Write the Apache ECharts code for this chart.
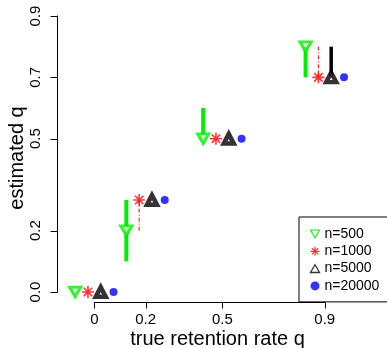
<!DOCTYPE html>
<html>
<head>
<meta charset="utf-8">
<script src="https://cdn.jsdelivr.net/npm/echarts@6/dist/echarts.min.js"></script>
<style>
html,body{margin:0;padding:0;background:#fff;}
#chart{width:387px;height:348px;}
</style>
</head>
<body>
<div id="chart"></div>
<script>
// ---- data ----
const seriesNames = ['n=500', 'n=1000', 'n=5000', 'n=20000'];
const trueQ = [0, 0.2, 0.5, 0.9];
const est500 = [0.0, 0.2, 0.5, 0.8];
const lo500 = [0.0, 0.1, 0.5, 0.7];
const hi500 = [0.0, 0.3, 0.6, 0.8];
const est1000 = [0.0, 0.3, 0.5, 0.7];
const lo1000 = [0.0, 0.2, 0.5, 0.7];
const hi1000 = [0.0, 0.3, 0.5, 0.8];
const est5000 = [0.0, 0.3, 0.5, 0.7];
const lo5000 = [0.0, 0.3, 0.5, 0.7];
const hi5000 = [0.0, 0.3, 0.5, 0.8];
const est20000 = [0.0, 0.3, 0.5, 0.7];
const lo20000 = [0.0, 0.3, 0.5, 0.7];
const hi20000 = [0.0, 0.3, 0.5, 0.7];
const xTicks = [0, 0.2, 0.5, 0.9];
const yTicks = [0.0, 0.2, 0.5, 0.7, 0.9];
const xTickLabels = ['0', '0.2', '0.5', '0.9'];
const yTickLabels = ['0.0', '0.2', '0.5', '0.7', '0.9'];

// ---- styling ----
const FONT = '"Liberation Sans", Arial, Helvetica, sans-serif';
// axis ranges (grid extends a little beyond the R plot box so ticks fit inside it)
const XMIN = -0.181, XMAX = 1.143, YMIN = -0.062, YMAX = 0.936;
// R plot-box edges, where the axis lines sit
const BOX_X = -0.146, BOX_Y = -0.036;
const dodge = [-0.075, -0.025, 0.025, 0.075];
const ests = [est500, est1000, est5000, est20000];
const los = [lo500, lo1000, lo5000, lo20000];
const his = [hi500, hi1000, hi5000, hi20000];
const colors = ['#00ee00', '#ff0000', '#000000', '#0000ff'];
const barStyles = [
  {lineWidth: 4, lineDash: null},
  {lineWidth: 1, lineDash: [4, 2, 1, 2]},
  {lineWidth: 3.5, lineDash: null},
  {lineWidth: 2, lineDash: null}
];
const asterisk = 'path://M0,5L10,5M5,0L5,10M1.5,1.5L8.5,8.5M8.5,1.5L1.5,8.5';
const downTri = 'path://M0,0L10,0L5,8.66Z';
const upTri = 'path://M5,0L10,8.66L0,8.66Z';

const chart = echarts.init(document.getElementById('chart'), null, {renderer: 'canvas'});

const series = [];
// error bars
for (let s = 0; s < 4; s++) {
  const data = [];
  for (let i = 0; i < trueQ.length; i++) {
    if (his[s][i] > los[s][i]) data.push([trueQ[i] + dodge[s], los[s][i], his[s][i]]);
  }
  series.push({
    type: 'custom',
    silent: true,
    z: 1,
    data: data,
    renderItem: function (params, api) {
      const p1 = api.coord([api.value(0), api.value(1)]);
      const p2 = api.coord([api.value(0), api.value(2)]);
      return {
        type: 'line',
        shape: {x1: p1[0], y1: p1[1], x2: p2[0], y2: p2[1]},
        style: {stroke: colors[s], lineWidth: barStyles[s].lineWidth, lineDash: barStyles[s].lineDash}
      };
    }
  });
}
// axis lines and ticks (R style: span ticks only)
series.push({
  type: 'custom', silent: true, z: 5, data: [[0, 0]],
  renderItem: function (params, api) {
    const a = api.coord([xTicks[0], BOX_Y]);
    const b = api.coord([xTicks[xTicks.length - 1], BOX_Y]);
    const c = api.coord([BOX_X, yTicks[0]]);
    const d = api.coord([BOX_X, yTicks[yTicks.length - 1]]);
    const yb = Math.round(a[1]) - 0.5;
    const xl = Math.round(c[0]) + 0.5;
    const children = [
      {type: 'line', shape: {x1: a[0] - 0.5, y1: yb, x2: b[0] + 0.5, y2: yb}, style: {stroke: '#000', lineWidth: 1}},
      {type: 'line', shape: {x1: xl, y1: c[1] + 0.5, x2: xl, y2: d[1] - 0.5}, style: {stroke: '#000', lineWidth: 1}}
    ];
    xTicks.forEach(function (t) {
      const p = api.coord([t, BOX_Y]);
      const x = Math.round(p[0]) + 0.5;
      children.push({type: 'line', shape: {x1: x, y1: yb, x2: x, y2: yb + 6}, style: {stroke: '#000', lineWidth: 1}});
    });
    yTicks.forEach(function (t) {
      const p = api.coord([BOX_X, t]);
      const y = Math.round(p[1]) + 0.5;
      children.push({type: 'line', shape: {x1: xl, y1: y, x2: xl - 7, y2: y}, style: {stroke: '#000', lineWidth: 1}});
    });
    return {type: 'group', children: children};
  }
});
// markers
const markerDefs = [
  {symbol: 'triangle', symbolRotate: 180, symbolSize: [11, 9.5], itemStyle: {color: '#fff', borderColor: colors[0], borderWidth: 3}},
  {symbol: asterisk, symbolSize: 12, itemStyle: {color: 'none', borderColor: colors[1], borderWidth: 1.6}},
  {symbol: 'triangle', symbolSize: [10, 9.5], itemStyle: {color: '#fff', borderColor: colors[2], borderWidth: 4.5}},
  {symbol: 'circle', symbolSize: 8, itemStyle: {color: colors[3]}}
];
for (let s = 0; s < 4; s++) {
  const data = trueQ.map((q, i) => [q + dodge[s], ests[s][i]]);
  series.push(Object.assign({
    type: 'scatter',
    name: seriesNames[s],
    z: 3,
    data: data,
    silent: true
  }, markerDefs[s]));
}

const legendIcons = [
  {icon: downTri, itemStyle: {color: '#fff', borderColor: colors[0], borderWidth: 1.3}},
  {icon: asterisk, itemStyle: {color: 'none', borderColor: colors[1], borderWidth: 1.2}},
  {icon: upTri, itemStyle: {color: '#fff', borderColor: colors[2], borderWidth: 1.3}},
  {icon: 'circle', itemStyle: {color: colors[3], borderWidth: 0}}
];

const option = {
  animation: false,
  backgroundColor: '#fff',
  grid: {left: 48, top: 5, width: 339, height: 306, containLabel: false, outerBoundsMode: 'none'},
  xAxis: {
    type: 'value', min: XMIN, max: XMAX,
    name: 'true retention rate q', nameLocation: 'middle', nameGap: 18, nameMoveOverlap: false,
    nameTextStyle: {fontFamily: FONT, fontSize: 20, color: '#000'},
    axisLine: {show: false, onZero: false},
    axisTick: {show: false},
    axisLabel: {customValues: xTicks, fontFamily: FONT, fontSize: 15, color: '#000', margin: 1,
      formatter: function (v) { const i = xTicks.indexOf(v); return i >= 0 ? xTickLabels[i] : ''; }},
    splitLine: {show: false}
  },
  yAxis: {
    type: 'value', min: YMIN, max: YMAX,
    name: 'estimated q', nameLocation: 'middle', nameGap: 21, nameRotate: 90, nameMoveOverlap: false,
    nameTextStyle: {fontFamily: FONT, fontSize: 20, color: '#000'},
    axisLine: {show: false, onZero: false},
    axisTick: {show: false},
    axisLabel: {customValues: yTicks, rotate: 90, fontFamily: FONT, fontSize: 15, color: '#000', margin: 5,
      formatter: function (v) { const i = yTicks.indexOf(v); return i >= 0 ? yTickLabels[i] : ''; }},
    splitLine: {show: false}
  },
  legend: {
    orient: 'vertical', left: 299, top: 217,
    padding: [10, 20, 9, 9],
    itemWidth: 9, itemHeight: 9, itemGap: 3.3,
    borderColor: '#000', borderWidth: 1, borderRadius: 0,
    textStyle: {fontFamily: FONT, fontSize: 14, color: '#000', padding: [0, 0, 0, 0], lineHeight: 14},
    selectedMode: false,
    data: seriesNames.map((n, i) => Object.assign({name: n}, legendIcons[i]))
  },
  series: series
};
chart.setOption(option);
</script>
</body>
</html>
